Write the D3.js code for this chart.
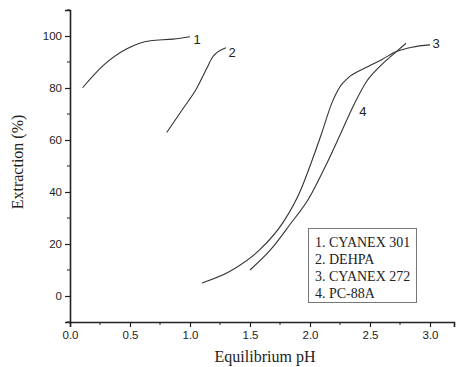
<!DOCTYPE html>
<html lang="en">
<head>
  <meta charset="utf-8">
  <title>Extraction vs Equilibrium pH</title>
  <script src="https://d3js.org/d3.v7.min.js"></script>
  <style>
    body { margin: 0; background: #fff; }
    .tick text { font-family: "Liberation Sans", Arial, sans-serif; font-size: 11.5px; fill: #222; }
    .axis-title { font-family: "Liberation Serif", "Times New Roman", serif; font-size: 16px; fill: #222; }
    .legend text { font-family: "Liberation Serif", "Times New Roman", serif; font-size: 14px; fill: #222; }
    .curve-label { font-family: "Liberation Sans", Arial, sans-serif; font-size: 13px; fill: #222; }
  </style>
</head>
<body>
<script>
  // --------------------------------------------------
  // Data
  // --------------------------------------------------
  const legendLabels = ["1. CYANEX 301", "2. DEHPA", "3. CYANEX 272", "4. PC-88A"];
  const curveNames = ["1", "2", "3", "4"];

  const cyanex301 = [
    [0.105, 80.1], [0.28, 88.8], [0.47, 95], [0.67, 98.2], [0.86, 98.8], [1.0, 99.7]
  ];
  const dehpa = [
    [0.806, 62.9], [0.944, 72.2], [1.056, 79.9], [1.14, 87.6], [1.19, 92], [1.3, 95.5]
  ];
  const cyanex272 = [
    [1.1, 5], [1.33, 9.4], [1.58, 17.7], [1.78, 28.6], [1.92, 40.5], [2.0, 50],
    [2.1, 63], [2.18, 74], [2.25, 80.5], [2.32, 84], [2.45, 87.5], [2.6, 91],
    [2.72, 94], [2.85, 95.7], [3.0, 96.6]
  ];
  const pc88a = [
    [1.5, 10], [1.67, 17.7], [1.83, 27.3], [1.99, 37.5], [2.14, 51], [2.25, 61.9],
    [2.36, 73], [2.47, 82.4], [2.58, 88.2], [2.72, 94], [2.8, 97.2]
  ];

  // where the number labels sit next to each curve
  const labelPositions = [[1.06, 98.5], [1.35, 93.5], [3.05, 97.3], [2.44, 71]];

  const xTicks = [0, 0.5, 1.0, 1.5, 2.0, 2.5, 3.0];
  const yTicks = [0, 20, 40, 60, 80, 100];

  // --------------------------------------------------
  // Layout
  // --------------------------------------------------
  const width = 458, height = 367;
  const margin = { left: 70, top: 10, right: 4, bottom: 45 };

  const svg = d3.select("body").append("svg")
    .attr("width", width)
    .attr("height", height);

  const x = d3.scaleLinear().domain([0, 3.2]).range([margin.left, margin.left + 384]);
  const y = d3.scaleLinear().domain([-10, 110]).range([height - margin.bottom, margin.top]);

  // --------------------------------------------------
  // Axes (major + minor ticks)
  // --------------------------------------------------
  const xMinor = d3.range(0.25, 3.2, 0.5);
  const yMinor = d3.range(-10, 111, 20);

  const xAxis = svg.append("g")
    .attr("transform", `translate(0,${y(-10)})`)
    .call(d3.axisBottom(x).tickValues(xTicks).tickFormat(d3.format(".1f")).tickSizeOuter(0).tickSize(5).tickPadding(4));

  const yAxis = svg.append("g")
    .attr("transform", `translate(${x(0)},0)`)
    .call(d3.axisLeft(y).tickValues(yTicks).tickSizeOuter(0).tickSize(5).tickPadding(3));

  xAxis.selectAll(".minor").data(xMinor).join("line")
    .attr("class", "minor")
    .attr("x1", d => x(d)).attr("x2", d => x(d))
    .attr("y1", 0).attr("y2", 3)
    .attr("stroke", "#222");

  yAxis.selectAll(".minor").data(yMinor).join("line")
    .attr("class", "minor")
    .attr("y1", d => y(d)).attr("y2", d => y(d))
    .attr("x1", 0).attr("x2", -3)
    .attr("stroke", "#222");

  [xAxis, yAxis].forEach(a => {
    a.select(".domain").attr("stroke", "#222").attr("stroke-width", 1.6);
    a.selectAll(".tick line").attr("stroke", "#222").attr("stroke-width", 1.2);
  });

  svg.append("text")
    .attr("class", "axis-title")
    .attr("x", 265)
    .attr("y", 362)
    .attr("text-anchor", "middle")
    .text("Equilibrium pH");

  svg.append("text")
    .attr("class", "axis-title")
    .attr("transform", "translate(23,162) rotate(-90)")
    .attr("text-anchor", "middle")
    .text("Extraction (%)");

  // --------------------------------------------------
  // Curves
  // --------------------------------------------------
  const line = d3.line()
    .x(d => x(d[0]))
    .y(d => y(d[1]))
    .curve(d3.curveMonotoneX);

  const series = [cyanex301, dehpa, cyanex272, pc88a];

  svg.selectAll(".curve").data(series).join("path")
    .attr("class", "curve")
    .attr("d", line)
    .attr("fill", "none")
    .attr("stroke", "#333")
    .attr("stroke-width", 1.1);

  svg.selectAll(".curve-label").data(curveNames).join("text")
    .attr("class", "curve-label")
    .attr("x", (d, i) => x(labelPositions[i][0]))
    .attr("y", (d, i) => y(labelPositions[i][1]))
    .attr("dy", "0.35em")
    .attr("text-anchor", "middle")
    .text(d => d);

  // --------------------------------------------------
  // Legend
  // --------------------------------------------------
  const legend = svg.append("g").attr("class", "legend");

  legend.append("rect")
    .attr("x", 308.5).attr("y", 228.5)
    .attr("width", 108).attr("height", 74)
    .attr("fill", "#fff")
    .attr("stroke", "#777")
    .attr("stroke-width", 1);

  legend.selectAll("text").data(legendLabels).join("text")
    .attr("x", 315)
    .attr("y", (d, i) => 246.5 + i * 17.3)
    .text(d => d);
</script>
</body>
</html>
